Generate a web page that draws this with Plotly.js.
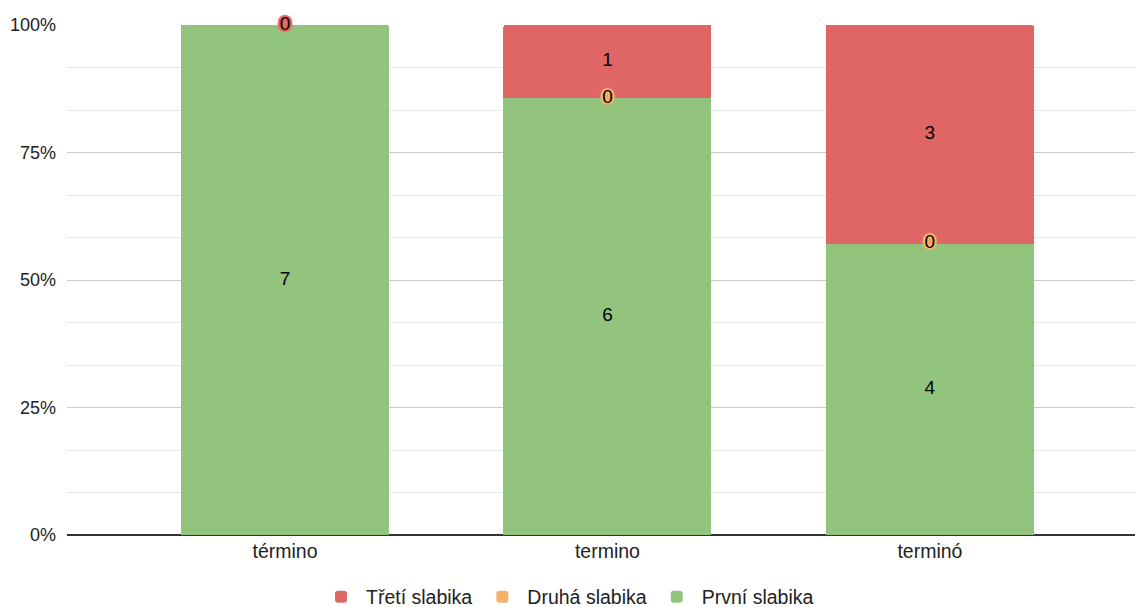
<!DOCTYPE html>
<html>
<head>
<meta charset="utf-8">
<script src="https://cdn.plot.ly/plotly-3.0.1.min.js"></script>
<style>
  html, body { margin: 0; padding: 0; background: #fff; }
  #chart { width: 1135px; height: 607px; }
</style>
</head>
<body>
<div id="chart"></div>
<script>
// Stress position counts per word form
const categories = ['término', 'termino', 'terminó'];
const prvni = [7, 6, 4];   // První slabika
const druha = [0, 0, 0];   // Druhá slabika
const treti = [0, 1, 3];   // Třetí slabika
const yTickVals = [0, 25, 50, 75, 100];
const yTickText = ['0%', '25%', '50%', '75%', '100%'];

const seriesNames = ['První slabika', 'Druhá slabika', 'Třetí slabika'];
const seriesColors = ['#93c47d', '#f6b26b', '#e06666'];
const seriesValues = [prvni, druha, treti];

const FONT = 'Liberation Sans, Arial, sans-serif';
const totals = categories.map((_, i) => prvni[i] + druha[i] + treti[i]);

// Stacked bars, normalised to 100 %
const barTraces = seriesValues.map((vals, s) => ({
  type: 'bar',
  name: seriesNames[s],
  x: categories,
  y: vals,
  marker: { color: seriesColors[s] },
  hoverinfo: 'skip'
}));

// Value labels: centred in each segment; zero-height segments get a halo
function halo(c) {
  const offs = [[1,0],[-1,0],[0,1],[0,-1],[1,1],[-1,-1],[1,-1],[-1,1],[2,0],[-2,0],[0,2],[0,-2],[2,1],[-2,1],[2,-1],[-2,-1]];
  return offs.map(o => o[0] + 'px ' + o[1] + 'px 1px ' + c).join(', ');
}
const plainLabels = { x: [], y: [], text: [] };
const zeroTraces = [];
seriesValues.forEach((vals, s) => {
  const zx = [], zy = [];
  vals.forEach((v, i) => {
    let below = 0;
    for (let k = 0; k < s; k++) below += seriesValues[k][i];
    if (v === 0) {
      zx.push(categories[i]);
      zy.push(below / totals[i] * 100);
    } else {
      plainLabels.x.push(categories[i]);
      plainLabels.y.push((below + v / 2) / totals[i] * 100);
      plainLabels.text.push(String(v));
    }
  });
  if (!zx.length) return;
  zeroTraces.push({
    type: 'scatter',
    mode: 'text',
    x: zx,
    y: zy,
    text: zx.map(() => '0'),
    textposition: 'middle center',
    textfont: { family: FONT, size: 19, color: '#000', shadow: halo(seriesColors[s]) },
    cliponaxis: false,
    showlegend: false,
    hoverinfo: 'skip'
  });
});

const labelTrace = {
  type: 'scatter',
  mode: 'text',
  x: plainLabels.x,
  y: plainLabels.y,
  text: plainLabels.text,
  textposition: 'middle center',
  textfont: { family: FONT, size: 19, color: '#000' },
  cliponaxis: false,
  showlegend: false,
  hoverinfo: 'skip'
};

const layout = {
  width: 1135,
  height: 607,
  margin: { l: 67, r: 0, t: 25, b: 72, autoexpand: false },
  paper_bgcolor: '#fff',
  plot_bgcolor: '#fff',
  barmode: 'stack',
  barnorm: 'percent',
  bargap: 0.355,
  barcornerradius: 2,
  font: { family: FONT, size: 18, color: '#222' },
  showlegend: true,
  legend: {
    orientation: 'h',
    xref: 'container', yref: 'container',
    x: 0.5, xanchor: 'center',
    y: 0.0165, yanchor: 'middle',
    traceorder: 'reversed',
    itemwidth: 40,
    itemclick: false,
    font: { family: FONT, size: 19.5, color: '#222' }
  },
  xaxis: {
    type: 'category',
    range: [-0.676, 2.636],
    automargin: false,
    showgrid: false,
    zeroline: false,
    showline: false,
    ticks: '',
    ticklabelstandoff: 2,
    tickfont: { family: FONT, size: 19.5, color: '#222' },
    fixedrange: true
  },
  yaxis: {
    range: [0, 100],
    automargin: false,
    tickmode: 'array',
    tickvals: yTickVals,
    ticktext: yTickText,
    showgrid: true,
    gridcolor: '#cccccc',
    gridwidth: 1,
    minor: { dtick: 25 / 3, tick0: 0, showgrid: true, gridcolor: '#e8e8e8', gridwidth: 1 },
    zeroline: true,
    zerolinecolor: '#333333',
    zerolinewidth: 1.5,
    ticklabelstandoff: 10,
    tickfont: { family: FONT, size: 18, color: '#222' },
    fixedrange: true
  }
};

Plotly.newPlot('chart', barTraces.concat([labelTrace], zeroTraces), layout, { displayModeBar: false, staticPlot: true });
</script>
</body>
</html>
